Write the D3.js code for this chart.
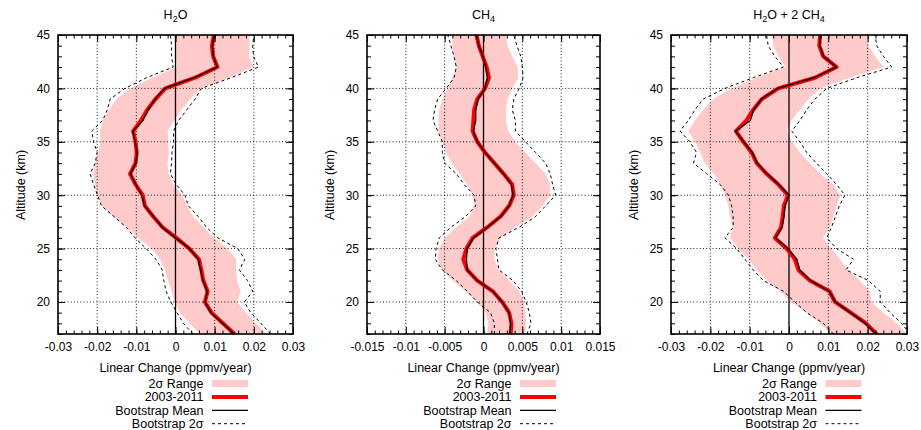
<!DOCTYPE html>
<html>
<head>
<meta charset="utf-8">
<script src="https://cdn.jsdelivr.net/npm/d3@7"></script>
<style>
  html, body { margin: 0; padding: 0; background: #fff; }
  svg { display: block; font-family: "Liberation Sans", Arial, Helvetica, sans-serif; }
</style>
</head>
<body>
<svg id="chart" width="921" height="430"></svg>
<script>
// Altitude levels (km), shared by every profile
const altitudes = [17,18,19,20,21,22,23,24,25,26,27,28,29,30,31,32,33,34,35,36,37,38,39,40,41,42,43,44,45];

// H2O trend profiles (ppmv/year)
const h2oTrend    = [0.0151,0.0121,0.0092,0.0075,0.0082,0.0071,0.0066,0.0060,0.0035,0.0002,-0.0033,-0.0057,-0.0078,-0.0084,-0.0102,-0.0116,-0.0102,-0.0099,-0.0102,-0.0108,-0.0088,-0.0072,-0.0051,-0.0026,0.0050,0.0107,0.0096,0.0093,0.0098];
const h2oBootMean = [0.0150,0.0120,0.0090,0.0076,0.0081,0.0070,0.0064,0.0058,0.0036,0.0000,-0.0034,-0.0056,-0.0079,-0.0086,-0.0101,-0.0115,-0.0101,-0.0098,-0.0103,-0.0109,-0.0083,-0.0070,-0.0052,-0.0028,0.0048,0.0106,0.0097,0.0094,0.0099];
const h2oRangeLo  = [0.0062,0.0036,0.0011,-0.0002,-0.0010,-0.0019,-0.0027,-0.0040,-0.0061,-0.0095,-0.0125,-0.0158,-0.0188,-0.0200,-0.0205,-0.0210,-0.0205,-0.0197,-0.0192,-0.0193,-0.0185,-0.0170,-0.0150,-0.0115,-0.0060,0.0003,0.0002,0.0002,0.0002];
const h2oRangeHi  = [0.0232,0.0205,0.0180,0.0157,0.0167,0.0157,0.0155,0.0155,0.0132,0.0098,0.0072,0.0045,0.0030,0.0017,-0.0005,-0.0017,-0.0020,-0.0017,-0.0018,-0.0020,-0.0003,0.0015,0.0038,0.0064,0.0136,0.0199,0.0187,0.0189,0.0189];
const h2oBootLo   = [0.0045,0.0020,0.0004,-0.0012,-0.0024,-0.0030,-0.0034,-0.0050,-0.0075,-0.0103,-0.0126,-0.0157,-0.0189,-0.0199,-0.0209,-0.0218,-0.0205,-0.0200,-0.0209,-0.0214,-0.0186,-0.0174,-0.0167,-0.0129,-0.0074,-0.0006,-0.0010,-0.0010,-0.0013];
const h2oBootHi   = [0.0243,0.0218,0.0192,0.0176,0.0197,0.0184,0.0163,0.0177,0.0159,0.0108,0.0079,0.0058,0.0033,0.0024,0.0002,-0.0013,-0.0010,-0.0009,-0.0005,-0.0005,0.0008,0.0029,0.0050,0.0066,0.0142,0.0212,0.0199,0.0197,0.0200];

// CH4 trend profiles (ppmv/year)
const ch4Trend    = [0.0035,0.0036,0.0033,0.0024,0.0012,-0.0008,-0.0021,-0.0026,-0.0022,-0.0014,0.0005,0.0022,0.0033,0.0039,0.0037,0.0026,0.0014,0.0002,-0.0008,-0.0014,-0.0013,-0.0012,-0.0008,0.0002,0.0007,0.0004,-0.0001,-0.0006,-0.0009];
const ch4BootMean = [0.0034,0.0035,0.0033,0.0024,0.0012,-0.0008,-0.0021,-0.0022,-0.0021,-0.0013,0.0005,0.0022,0.0033,0.0038,0.0036,0.0026,0.0014,0.0002,-0.0008,-0.0013,-0.0010,-0.0010,-0.0007,0.0002,0.0005,0.0003,-0.0001,-0.0006,-0.0009];
const ch4RangeLo  = [0.0005,0.0006,0.0003,-0.0008,-0.0023,-0.0040,-0.0053,-0.0059,-0.0057,-0.0050,-0.0035,-0.0018,-0.0012,-0.0014,-0.0021,-0.0031,-0.0041,-0.0048,-0.0053,-0.0058,-0.0058,-0.0057,-0.0053,-0.0046,-0.0040,-0.0035,-0.0038,-0.0040,-0.0040];
const ch4RangeHi  = [0.0054,0.0055,0.0054,0.0052,0.0046,0.0033,0.0020,0.0014,0.0014,0.0022,0.0041,0.0063,0.0076,0.0086,0.0086,0.0080,0.0067,0.0054,0.0041,0.0032,0.0029,0.0029,0.0031,0.0037,0.0045,0.0044,0.0037,0.0031,0.0029];
const ch4BootLo   = [0.0014,0.0014,0.0009,-0.0008,-0.0021,-0.0035,-0.0053,-0.0062,-0.0061,-0.0057,-0.0042,-0.0023,-0.0010,-0.0012,-0.0025,-0.0035,-0.0050,-0.0053,-0.0053,-0.0059,-0.0065,-0.0063,-0.0059,-0.0048,-0.0038,-0.0035,-0.0038,-0.0042,-0.0046];
const ch4BootHi   = [0.0056,0.0061,0.0059,0.0055,0.0049,0.0038,0.0020,0.0018,0.0016,0.0020,0.0046,0.0067,0.0080,0.0093,0.0089,0.0086,0.0080,0.0067,0.0054,0.0041,0.0041,0.0037,0.0039,0.0046,0.0051,0.0050,0.0048,0.0043,0.0039];

// H2O + 2 CH4 trend profiles (ppmv/year)
const sumTrend    = [0.0223,0.0196,0.0157,0.0117,0.0103,0.0053,0.0024,0.0015,-0.0006,-0.0036,-0.0020,-0.0016,-0.0013,-0.0003,-0.0027,-0.0057,-0.0082,-0.0095,-0.0116,-0.0135,-0.0108,-0.0091,-0.0069,-0.0027,0.0066,0.0121,0.0087,0.0077,0.0079];
const sumBootMean = [0.0221,0.0194,0.0156,0.0118,0.0102,0.0055,0.0027,0.0020,-0.0003,-0.0034,-0.0018,-0.0013,-0.0010,0.0000,-0.0026,-0.0056,-0.0081,-0.0094,-0.0115,-0.0136,-0.0098,-0.0090,-0.0070,-0.0029,0.0064,0.0120,0.0088,0.0078,0.0080];
const sumRangeLo  = [0.0108,0.0079,0.0045,0.0007,-0.0023,-0.0057,-0.0082,-0.0103,-0.0129,-0.0150,-0.0142,-0.0150,-0.0154,-0.0163,-0.0175,-0.0192,-0.0214,-0.0226,-0.0239,-0.0256,-0.0239,-0.0218,-0.0192,-0.0146,-0.0082,-0.0010,-0.0027,-0.0040,-0.0044];
const sumRangeHi  = [0.0300,0.0274,0.0240,0.0210,0.0206,0.0180,0.0150,0.0130,0.0108,0.0087,0.0104,0.0113,0.0121,0.0130,0.0113,0.0079,0.0053,0.0028,0.0007,-0.0006,0.0007,0.0028,0.0049,0.0079,0.0155,0.0240,0.0219,0.0202,0.0197];
const sumBootLo   = [0.0113,0.0087,0.0045,0.0015,-0.0014,-0.0065,-0.0091,-0.0112,-0.0133,-0.0163,-0.0142,-0.0142,-0.0146,-0.0154,-0.0175,-0.0209,-0.0243,-0.0235,-0.0252,-0.0277,-0.0256,-0.0239,-0.0218,-0.0163,-0.0091,-0.0014,-0.0036,-0.0053,-0.0057];
const sumBootHi   = [0.0308,0.0286,0.0257,0.0232,0.0232,0.0202,0.0145,0.0164,0.0121,0.0096,0.0108,0.0118,0.0128,0.0142,0.0121,0.0096,0.0070,0.0045,0.0028,0.0007,0.0028,0.0045,0.0066,0.0096,0.0172,0.0261,0.0240,0.0223,0.0219];

// Axis ticks and labels
const xTicksWide   = [-0.03,-0.02,-0.01,0,0.01,0.02,0.03];
const xLabelsWide  = ["-0.03","-0.02","-0.01","0","0.01","0.02","0.03"];
const xTicksNarrow = [-0.015,-0.01,-0.005,0,0.005,0.01,0.015];
const xLabelsNarrow= ["-0.015","-0.01","-0.005","0","0.005","0.01","0.015"];
const yTicks       = [20,25,30,35,40,45];
const yLabels      = ["20","25","30","35","40","45"];
const yDomain      = [17,45];

const legendLabels = ["2σ Range","2003-2011","Bootstrap Mean","Bootstrap 2σ"];
const xAxisTitle = "Linear Change (ppmv/year)";
const yAxisTitle = "Altitude (km)";

const panels = [
  { title: ["H", "2", "O"], left: 58, right: 293, xDomain: [-0.03,0.03], ticks: xTicksWide, labels: xLabelsWide, minorStep: 0.002,
    trend: h2oTrend, boot: h2oBootMean, lo: h2oRangeLo, hi: h2oRangeHi, bLo: h2oBootLo, bHi: h2oBootHi },
  { title: ["CH", "4", ""], left: 367, right: 600, xDomain: [-0.015,0.015], ticks: xTicksNarrow, labels: xLabelsNarrow, minorStep: 0.001,
    trend: ch4Trend, boot: ch4BootMean, lo: ch4RangeLo, hi: ch4RangeHi, bLo: ch4BootLo, bHi: ch4BootHi },
  { title: ["H", "2", "O + 2 CH", "4", ""], left: 671, right: 907, xDomain: [-0.03,0.03], ticks: xTicksWide, labels: xLabelsWide, minorStep: 0.002,
    trend: sumTrend, boot: sumBootMean, lo: sumRangeLo, hi: sumRangeHi, bLo: sumBootLo, bHi: sumBootHi }
];

const TOP = 35, BOTTOM = 334;
const PINK = "#ffcaca", RED = "#ff0000";
const svg = d3.select("#chart");

panels.forEach((p, pi) => {
  const x = d3.scaleLinear().domain(p.xDomain).range([p.left, p.right]);
  const y = d3.scaleLinear().domain(yDomain).range([BOTTOM, TOP]);
  const g = svg.append("g");
  const clipId = "clip" + pi;
  svg.append("clipPath").attr("id", clipId)
    .append("rect").attr("x", p.left).attr("y", TOP)
    .attr("width", p.right - p.left).attr("height", BOTTOM - TOP);

  const rows = altitudes.map((a, i) => ({ a, trend: p.trend[i], boot: p.boot[i], lo: p.lo[i], hi: p.hi[i], bLo: p.bLo[i], bHi: p.bHi[i] }));
  const plot = g.append("g").attr("clip-path", `url(#${clipId})`);

  // 2-sigma range band
  plot.append("path").datum(rows)
    .attr("d", d3.area().y(d => y(d.a)).x0(d => x(d.lo)).x1(d => x(d.hi)))
    .attr("fill", PINK);

  // dotted grid at major ticks
  const grid = plot.append("g").attr("stroke", "#000").attr("stroke-width", 0.9).attr("stroke-dasharray", "1,2.2");
  p.ticks.filter(t => t !== 0 && t !== p.xDomain[0] && t !== p.xDomain[1]).forEach(t => {
    grid.append("line").attr("x1", x(t)).attr("x2", x(t)).attr("y1", TOP).attr("y2", BOTTOM);
  });
  yTicks.filter(t => t !== yDomain[1]).forEach(t => {
    grid.append("line").attr("x1", p.left).attr("x2", p.right).attr("y1", y(t)).attr("y2", y(t));
  });

  // zero line
  plot.append("line").attr("x1", x(0)).attr("x2", x(0)).attr("y1", TOP).attr("y2", BOTTOM)
    .attr("stroke", "#000").attr("stroke-width", 1.3);

  const line = key => d3.line().y(d => y(d.a)).x(d => x(d[key]));
  // bootstrap 2-sigma bounds
  ["bLo", "bHi"].forEach(k => {
    plot.append("path").datum(rows).attr("d", line(k))
      .attr("fill", "none").attr("stroke", "#000").attr("stroke-width", 1)
      .attr("stroke-dasharray", "3,3");
  });
  // 2003-2011 trend
  plot.append("path").datum(rows).attr("d", line("trend"))
    .attr("fill", "none").attr("stroke", RED).attr("stroke-width", 4).attr("stroke-linejoin", "round");
  // bootstrap mean
  plot.append("path").datum(rows).attr("d", line("boot"))
    .attr("fill", "none").attr("stroke", "#000").attr("stroke-width", 1.3);

  // axes: major and minor ticks on all four sides, pointing inward
  const minorX = d3.range(p.xDomain[0], p.xDomain[1] + 1e-9, p.minorStep);
  const minorY = d3.range(yDomain[0], yDomain[1] + 1e-9, 1);
  const axisStyle = sel => {
    sel.select(".domain").remove();
    sel.selectAll("line").attr("stroke", "#000").attr("stroke-width", 1);
    sel.selectAll("text").attr("font-size", 12).attr("fill", "#000").attr("font-family", "Liberation Sans, Arial, sans-serif");
  };
  g.append("g").attr("transform", `translate(0,${BOTTOM})`)
    .call(d3.axisBottom(x).tickValues(minorX).tickSize(-3.5).tickFormat("")).call(axisStyle);
  g.append("g").attr("transform", `translate(0,${BOTTOM})`)
    .call(d3.axisBottom(x).tickValues(p.ticks).tickSize(-7).tickPadding(8.5).tickFormat((d, i) => p.labels[i])).call(axisStyle);
  g.append("g").attr("transform", `translate(0,${TOP})`)
    .call(d3.axisTop(x).tickValues(minorX).tickSize(-3.5).tickFormat("")).call(axisStyle);
  g.append("g").attr("transform", `translate(0,${TOP})`)
    .call(d3.axisTop(x).tickValues(p.ticks).tickSize(-7).tickFormat("")).call(axisStyle);
  g.append("g").attr("transform", `translate(${p.left},0)`)
    .call(d3.axisLeft(y).tickValues(minorY).tickSize(-4).tickFormat("")).call(axisStyle);
  g.append("g").attr("transform", `translate(${p.left},0)`)
    .call(d3.axisLeft(y).tickValues(yTicks).tickSize(-7).tickPadding(8).tickFormat((d, i) => yLabels[i])).call(axisStyle);
  g.append("g").attr("transform", `translate(${p.right},0)`)
    .call(d3.axisRight(y).tickValues(minorY).tickSize(-4).tickFormat("")).call(axisStyle);
  g.append("g").attr("transform", `translate(${p.right},0)`)
    .call(d3.axisRight(y).tickValues(yTicks).tickSize(-7).tickFormat("")).call(axisStyle);

  // frame
  g.append("rect").attr("x", p.left).attr("y", TOP)
    .attr("width", p.right - p.left).attr("height", BOTTOM - TOP)
    .attr("fill", "none").attr("stroke", "#000").attr("stroke-width", 1.6);

  const cx = (p.left + p.right) / 2;

  // title with subscripts
  const title = g.append("text").attr("x", cx).attr("y", 19).attr("text-anchor", "middle")
    .attr("font-size", 12.5).attr("fill", "#000");
  p.title.forEach((s, i) => {
    if (s === "") return;
    const sub = i % 2 === 1;
    title.append("tspan").text(s)
      .attr("font-size", sub ? 9 : 12.5)
      .attr("dy", sub ? 3 : (i > 0 ? -3 : 0));
  });

  // axis titles
  g.append("text").attr("x", cx).attr("y", 371.5).attr("text-anchor", "middle")
    .attr("font-size", 12.5).attr("fill", "#000").text(xAxisTitle);
  g.append("text").attr("transform", `translate(${p.left - 33},185) rotate(-90)`)
    .attr("text-anchor", "middle").attr("font-size", 12.5).attr("fill", "#000").text(yAxisTitle);

  // legend
  const lx = cx + 28, sx0 = cx + 36.5, sx1 = cx + 72.5;
  legendLabels.forEach((lab, i) => {
    const ly = 383.5 + i * 13.4;
    g.append("text").attr("x", lx).attr("y", ly + 4.3).attr("text-anchor", "end")
      .attr("font-size", 12.5).attr("fill", "#000").text(lab);
    if (i === 0) {
      g.append("rect").attr("x", sx0).attr("y", ly - 3.5).attr("width", sx1 - sx0).attr("height", 7).attr("fill", PINK);
    } else {
      g.append("line").attr("x1", sx0).attr("x2", sx1).attr("y1", ly).attr("y2", ly)
        .attr("stroke", i === 1 ? RED : "#000")
        .attr("stroke-width", i === 1 ? 4 : (i === 2 ? 1.3 : 1))
        .attr("stroke-dasharray", i === 3 ? "3,3" : null);
    }
  });
});
</script>
</body>
</html>
